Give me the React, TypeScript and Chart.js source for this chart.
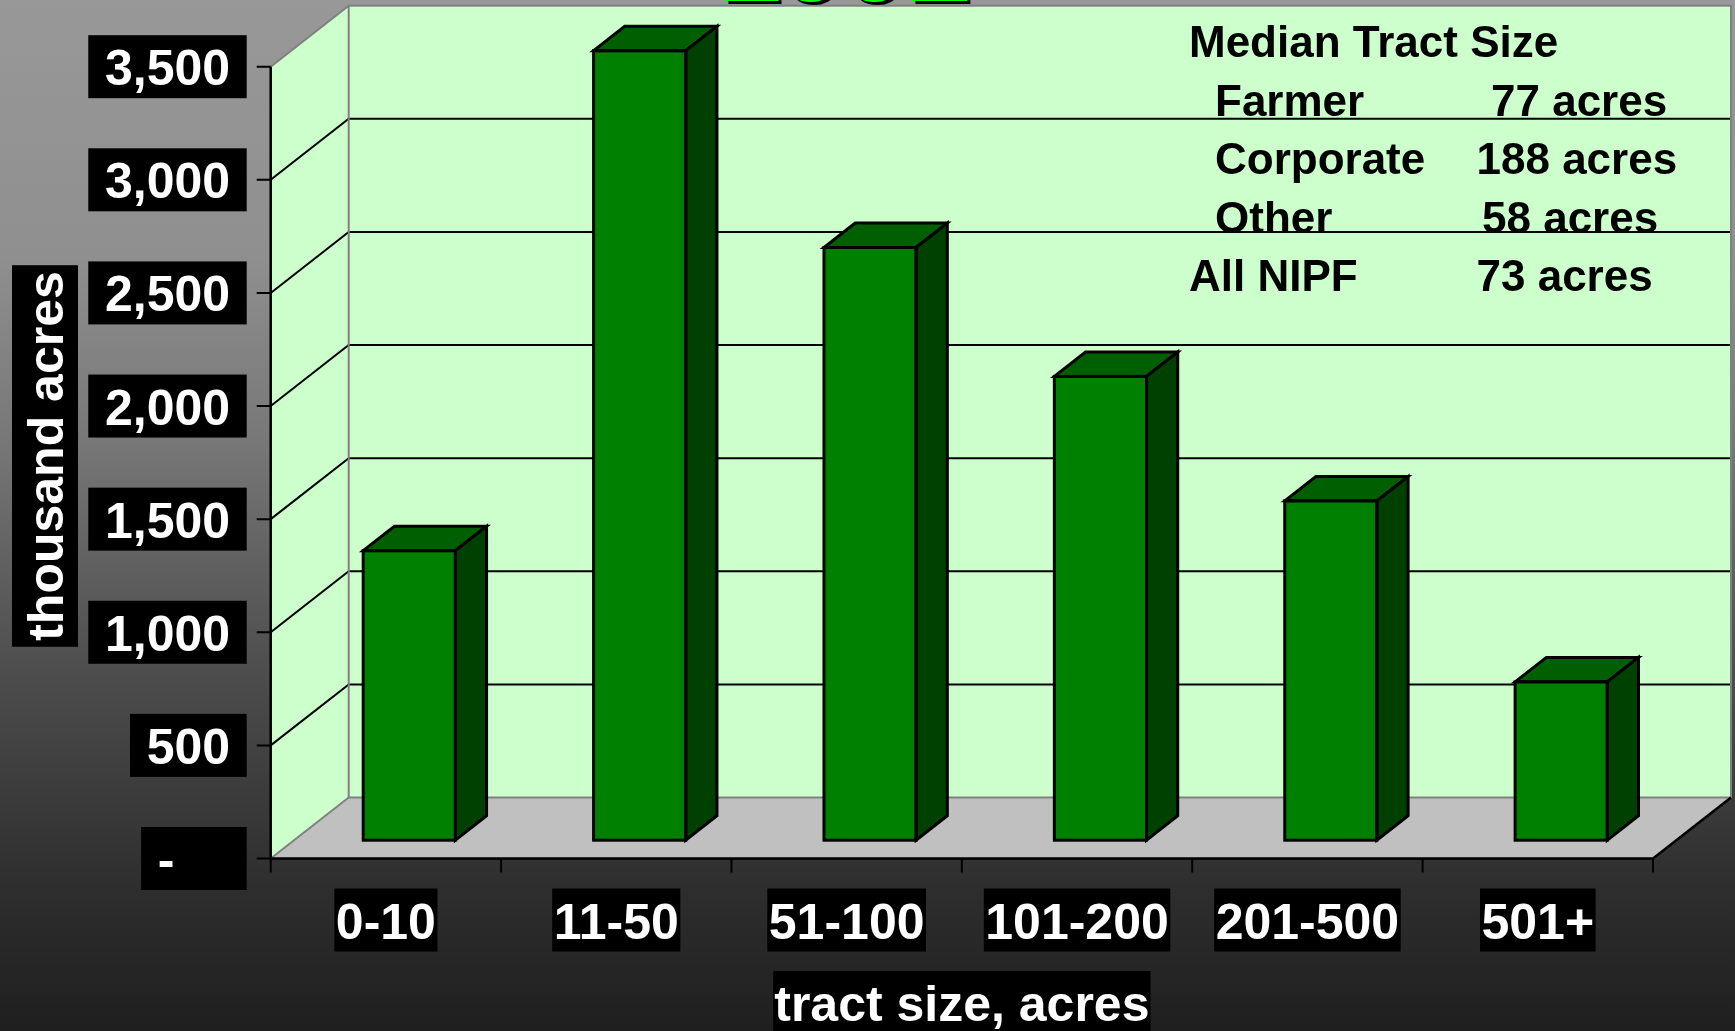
import { useEffect, useRef } from "react";
import { Chart, registerables } from "chart.js";

Chart.register(...registerables);

// ---- data ----
const categories = ["0-10", "11-50", "51-100", "101-200", "201-500", "501+"];
const acresThousands = [1280, 3490, 2620, 2050, 1500, 700];
const yTickValues = [0, 500, 1000, 1500, 2000, 2500, 3000, 3500];
const chartTitle = "1992";
const yAxisTitle = "thousand acres";
const xAxisTitle = "tract size, acres";
const medianHeading = "Median Tract Size";
const medianOwners = ["Farmer", "Corporate", "Other", "All NIPF"];
const medianAcres = [77, 188, 58, 73];

// ---- layout / style ----
const W = 1735;
const H = 1031;
const DEPTH_X = 78; // full depth of the 3-D floor
const DEPTH_Y = -61;
const BAR_FRONT = 0.3; // bars sit between 30% and 70% of the depth
const BAR_DEPTH = 0.4;
const LABEL_FONT = 'bold 50px "Liberation Sans", Arial, sans-serif';
const NOTE_FONT = 'bold 44px "Liberation Sans", Arial, sans-serif';
const WALL = "#CCFFCC";
const FLOOR = "#C0C0C0";
const EDGE = "#808080";
const BAR_FRONT_COLOR = "#008000";
const BAR_TOP_COLOR = "#005F00";
const BAR_SIDE_COLOR = "#004000";
// text rows of the median note: [indent x, value x, baseline y]
const NOTE_HEAD = { x: 1189, y: 57 };
const NOTE_ROWS = [
  { x: 1215, vx: 1491, y: 115.5 },
  { x: 1215, vx: 1476.5, y: 174 },
  { x: 1215, vx: 1482, y: 232.5 },
  { x: 1189, vx: 1476.5, y: 291 },
];

const fmt = (v: number) => String(v).replace(/\B(?=(\d{3})+(?!\d))/g, ",");

const frontOff = { x: -BAR_FRONT * DEPTH_X, y: -BAR_FRONT * DEPTH_Y };
const backOff = { x: (1 - BAR_FRONT) * DEPTH_X, y: (1 - BAR_FRONT) * DEPTH_Y };

const threeD = {
  id: "threeD",
  beforeDraw(chart: any) {
    const ctx = chart.ctx as CanvasRenderingContext2D;
    const g = ctx.createLinearGradient(0, 0, 0, H);
    g.addColorStop(0, "#989898");
    g.addColorStop(0.25, "#8f8f8f");
    g.addColorStop(0.43, "#777777");
    g.addColorStop(0.64, "#4f4f4f");
    g.addColorStop(0.86, "#2e2e2e");
    g.addColorStop(1, "#1f1f1f");
    ctx.save();
    ctx.fillStyle = g;
    ctx.fillRect(0, 0, W, H);
    ctx.restore();
  },
  beforeDatasetsDraw(chart: any) {
    const ctx = chart.ctx as CanvasRenderingContext2D;
    const a = chart.chartArea;
    const ys = chart.scales.y;
    const yTop = ys.getPixelForValue(yTickValues[yTickValues.length - 1]);
    const yBot = ys.getPixelForValue(0);
    const fL = a.left + frontOff.x, fR = a.right + frontOff.x;
    const bL = a.left + backOff.x, bR = a.right + backOff.x;
    ctx.save();
    // back wall
    ctx.fillStyle = WALL;
    ctx.fillRect(bL, yTop + backOff.y, bR - bL, yBot - yTop);
    // side wall
    ctx.beginPath();
    ctx.moveTo(fL, yTop + frontOff.y);
    ctx.lineTo(bL, yTop + backOff.y);
    ctx.lineTo(bL, yBot + backOff.y);
    ctx.lineTo(fL, yBot + frontOff.y);
    ctx.closePath();
    ctx.fill();
    // floor
    ctx.fillStyle = FLOOR;
    ctx.beginPath();
    ctx.moveTo(fL, yBot + frontOff.y);
    ctx.lineTo(fR, yBot + frontOff.y);
    ctx.lineTo(bR, yBot + backOff.y);
    ctx.lineTo(bL, yBot + backOff.y);
    ctx.closePath();
    ctx.fill();
    // gridlines
    ctx.strokeStyle = "#000";
    ctx.lineWidth = 2;
    for (const v of yTickValues) {
      if (v === 0 || v === yTickValues[yTickValues.length - 1]) continue;
      const yy = ys.getPixelForValue(v);
      ctx.beginPath();
      ctx.moveTo(fL, yy + frontOff.y);
      ctx.lineTo(bL, yy + backOff.y);
      ctx.lineTo(bR, yy + backOff.y);
      ctx.stroke();
    }
    // wall edges
    ctx.strokeStyle = EDGE;
    ctx.lineWidth = 2;
    ctx.strokeRect(bL, yTop + backOff.y, bR - bL, yBot - yTop);
    ctx.beginPath();
    ctx.moveTo(fL, yTop + frontOff.y);
    ctx.lineTo(bL, yTop + backOff.y);
    ctx.moveTo(fL, yBot + frontOff.y);
    ctx.lineTo(bL, yBot + backOff.y);
    ctx.stroke();
    // axes
    ctx.strokeStyle = "#000";
    ctx.lineWidth = 2.5;
    ctx.beginPath();
    ctx.moveTo(fL, yTop + frontOff.y);
    ctx.lineTo(fL, yBot + frontOff.y);
    ctx.lineTo(fR, yBot + frontOff.y);
    ctx.lineTo(bR, yBot + backOff.y);
    ctx.stroke();
    ctx.lineWidth = 2;
    ctx.beginPath();
    for (const v of yTickValues) {
      const yy = ys.getPixelForValue(v) + frontOff.y;
      ctx.moveTo(fL - 14, yy);
      ctx.lineTo(fL, yy);
    }
    const step = (fR - fL) / categories.length;
    for (let i = 0; i <= categories.length; i++) {
      const xx = fL + i * step;
      ctx.moveTo(xx, yBot + frontOff.y);
      ctx.lineTo(xx, yBot + frontOff.y + 14);
    }
    ctx.stroke();
    ctx.restore();
  },
  afterDatasetsDraw(chart: any) {
    const ctx = chart.ctx as CanvasRenderingContext2D;
    const dx = BAR_DEPTH * DEPTH_X, dy = BAR_DEPTH * DEPTH_Y;
    const meta = chart.getDatasetMeta(0);
    ctx.save();
    ctx.strokeStyle = "#000";
    ctx.lineWidth = 3;
    ctx.lineJoin = "miter";
    for (const el of meta.data) {
      const { x, y, base, width } = el.getProps(["x", "y", "base", "width"], true);
      const l = x - width / 2, r = x + width / 2;
      // top face
      ctx.fillStyle = BAR_TOP_COLOR;
      ctx.beginPath();
      ctx.moveTo(l, y);
      ctx.lineTo(l + dx, y + dy);
      ctx.lineTo(r + dx, y + dy);
      ctx.lineTo(r, y);
      ctx.closePath();
      ctx.fill();
      ctx.stroke();
      // side face
      ctx.fillStyle = BAR_SIDE_COLOR;
      ctx.beginPath();
      ctx.moveTo(r, y);
      ctx.lineTo(r + dx, y + dy);
      ctx.lineTo(r + dx, base + dy);
      ctx.lineTo(r, base);
      ctx.closePath();
      ctx.fill();
      ctx.stroke();
      // front outline
      ctx.strokeRect(l, y, width, base - y);
    }
    ctx.restore();
  },
  afterDraw(chart: any) {
    const ctx = chart.ctx as CanvasRenderingContext2D;
    const a = chart.chartArea;
    const ys = chart.scales.y;
    const xs = chart.scales.x;
    const fL = a.left + frontOff.x, fR = a.right + frontOff.x;
    const axisY = ys.getPixelForValue(0) + frontOff.y;
    ctx.save();
    ctx.font = LABEL_FONT;
    ctx.textBaseline = "alphabetic";
    const paren = ctx.measureText("(").width;
    const digit = ctx.measureText("0").width;
    // y tick labels
    for (const v of yTickValues) {
      const yy = ys.getPixelForValue(v) + frontOff.y;
      const txt = v === 0 ? "-" : fmt(v);
      const tw = ctx.measureText(txt).width + (v === 0 ? 2 * digit : 0);
      const boxW = tw + 2 * paren;
      const right = fL - 24;
      ctx.fillStyle = "#000";
      ctx.fillRect(right - boxW, yy - 31.5, boxW, 63);
      ctx.fillStyle = "#fff";
      ctx.textAlign = "left";
      ctx.fillText(txt, right - boxW + paren, yy + 18.5);
    }
    // x tick labels
    categories.forEach((c, i) => {
      const cx = xs.getPixelForValue(i) + frontOff.x;
      const tw = ctx.measureText(c).width + 3;
      const top = axisY + 30;
      ctx.fillStyle = "#000";
      ctx.fillRect(cx - tw / 2, top, tw, 63);
      ctx.fillStyle = "#fff";
      ctx.textAlign = "center";
      ctx.fillText(c, cx, top + 50);
    });
    // x axis title
    {
      const cx = (fL + fR) / 2;
      const tw = ctx.measureText(xAxisTitle).width + 2;
      const top = axisY + 112.5;
      ctx.fillStyle = "#000";
      ctx.fillRect(cx - tw / 2, top, tw, 63);
      ctx.fillStyle = "#fff";
      ctx.textAlign = "center";
      ctx.fillText(xAxisTitle, cx, top + 50);
    }
    // y axis title (rotated)
    {
      const cy = 456;
      const tw = ctx.measureText(yAxisTitle).width + 12;
      ctx.translate(12, cy);
      ctx.rotate(-Math.PI / 2);
      ctx.fillStyle = "#000";
      ctx.fillRect(-tw / 2, 0, tw, 66);
      ctx.fillStyle = "#fff";
      ctx.textAlign = "center";
      ctx.fillText(yAxisTitle, 0, 51);
      ctx.setTransform(1, 0, 0, 1, 0, 0);
    }
    // median tract size note
    ctx.font = NOTE_FONT;
    ctx.fillStyle = "#000";
    ctx.textAlign = "left";
    ctx.fillText(medianHeading, NOTE_HEAD.x, NOTE_HEAD.y);
    medianOwners.forEach((o, i) => {
      const row = NOTE_ROWS[i];
      ctx.fillText(o, row.x, row.y);
      ctx.fillText(`${medianAcres[i]} acres`, row.vx, row.y);
    });
    // year title, cut off by the top edge
    ctx.font = 'bold 114px "Liberation Sans", Arial, sans-serif';
    ctx.textAlign = "center";
    ctx.fillStyle = "#000";
    ctx.fillText(chartTitle, 848, 4);
    ctx.fillStyle = "#00FF00";
    ctx.fillText(chartTitle, 845, 1);
    ctx.restore();
  },
};

export default function App() {
  const ref = useRef<HTMLCanvasElement>(null);
  useEffect(() => {
    const canvas = ref.current;
    if (!canvas) return;
    const chart = new Chart(canvas, {
      type: "bar",
      data: {
        labels: categories,
        datasets: [
          {
            data: acresThousands,
            backgroundColor: BAR_FRONT_COLOR,
            borderColor: "#000",
            borderWidth: 0,
            borderSkipped: false,
            barPercentage: 0.4,
            categoryPercentage: 1,
          },
        ],
      },
      options: {
        responsive: false,
        animation: false,
        devicePixelRatio: 1,
        layout: {
          padding: { left: 294.1, right: W - 1676.4, top: 48.4, bottom: H - 840.2 },
        },
        plugins: { legend: { display: false }, tooltip: { enabled: false } },
        scales: {
          x: { display: false },
          y: {
            display: false,
            min: 0,
            max: yTickValues[yTickValues.length - 1],
            ticks: { stepSize: 500 },
          },
        },
      },
      plugins: [threeD],
    });
    return () => chart.destroy();
  }, []);
  return (
    <div style={{ position: "fixed", left: 0, top: 0, width: W, height: H }}>
      <canvas ref={ref} width={W} height={H} style={{ display: "block", width: W, height: H }} />
    </div>
  );
}
